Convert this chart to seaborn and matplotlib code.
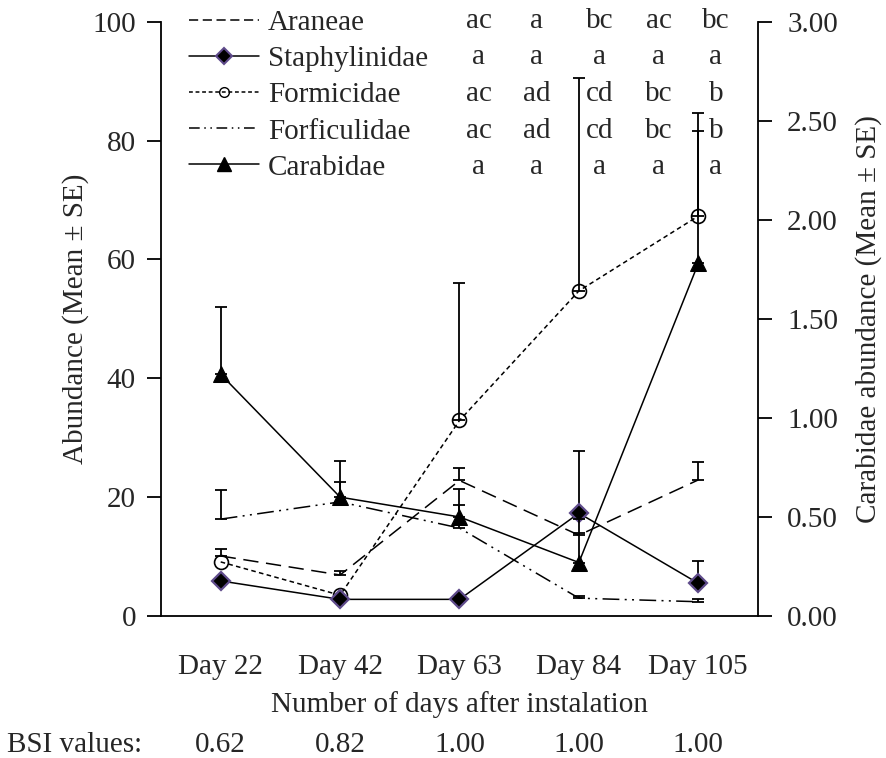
import numpy as np
import pandas as pd
import matplotlib
matplotlib.use("Agg")
import matplotlib.pyplot as plt
import seaborn as sns
from matplotlib.lines import Line2D
from matplotlib.ticker import FuncFormatter, FixedLocator

# ---------------- data ----------------
days = ["Day 22", "Day 42", "Day 63", "Day 84", "Day 105"]
bsi_values = ["0.62", "0.82", "1.00", "1.00", "1.00"]

araneae = [10.1, 6.9, 22.8, 13.6, 22.9]
araneae_se = [1.1, 0.7, 2.1, 0.4, 3.0]

staphylinidae = [5.9, 2.8, 2.8, 17.3, 5.5]
staphylinidae_se = [0.0, 0.0, 0.0, 10.4, 3.75]

formicidae = [9.1, 3.5, 32.9, 54.7, 67.3]
formicidae_se = [0.0, 0.0, 23.1, 35.9, 17.3]

forficulidae = [16.3, 19.2, 14.8, 3.0, 2.4]
forficulidae_se = [4.9, 3.4, 3.9, 0.3, 0.5]

carabidae = [1.22, 0.60, 0.50, 0.27, 1.78]          # right axis
carabidae_se = [0.34, 0.18, 0.14, 0.22, 0.67]

letters_araneae = ["ac", "a", "bc", "ac", "bc"]
letters_staph = ["a", "a", "a", "a", "a"]
letters_formicidae = ["ac", "ad", "cd", "bc", "b"]
letters_forficulidae = ["ac", "ad", "cd", "bc", "b"]
letters_carabidae = ["a", "a", "a", "a", "a"]

# ---------------- style ----------------
sns.set_theme(style="white")
plt.rcParams["font.family"] = ["Liberation Serif", "DejaVu Serif"]
plt.rcParams["mathtext.fontset"] = "stix"
FS = 21

W, H = 887, 758
fig = plt.figure(figsize=(W / 100, H / 100), dpi=100)
fig.patch.set_facecolor("white")
ax = fig.add_axes([161 / W, 1 - 616 / H, (758 - 161) / W, (616 - 21.7) / H])
ax2 = ax.twinx()

xpos = np.arange(len(days))
df = pd.DataFrame({
    "x": xpos,
    "Araneae": araneae,
    "Staphylinidae": staphylinidae,
    "Formicidae": formicidae,
    "Forficulidae": forficulidae,
    "Carabidae": carabidae,
})

LW = 1.1
purple = "#5F4B8B"

def err(axis, y, se, z=3):
    y = np.asarray(y, float)
    se = np.asarray(se, float)
    m = se > 0
    axis.errorbar(xpos[m], y[m], yerr=[np.zeros(m.sum()), se[m]], fmt="none",
                  ecolor="black", elinewidth=1.3, capsize=4.5, capthick=1.3, zorder=z)

# Araneae
sns.lineplot(data=df, x="x", y="Araneae", ax=ax, color="black", lw=LW,
             linestyle=(0, (10, 5)), label="Araneae", legend=False)
err(ax, araneae, araneae_se)
# Staphylinidae
sns.lineplot(data=df, x="x", y="Staphylinidae", ax=ax, color="black", lw=LW,
             marker="D", markersize=9, markerfacecolor="black",
             markeredgecolor=purple, markeredgewidth=1.6, label="Staphylinidae",
             legend=False, zorder=5)
err(ax, staphylinidae, staphylinidae_se)
# Formicidae
sns.lineplot(data=df, x="x", y="Formicidae", ax=ax, color="black", lw=LW,
             linestyle=(0, (3, 2.2)), marker="o", markersize=10,
             markerfacecolor="none", markeredgecolor="black", markeredgewidth=1.2,
             label="Formicidae", legend=False)
err(ax, formicidae, formicidae_se)
# Forficulidae
sns.lineplot(data=df, x="x", y="Forficulidae", ax=ax, color="black", lw=LW,
             linestyle=(0, (11, 3.5, 1.3, 3.5, 1.3, 3.5)), label="Forficulidae",
             legend=False)
err(ax, forficulidae, forficulidae_se)
# Carabidae on right axis
sns.lineplot(data=df, x="x", y="Carabidae", ax=ax2, color="black", lw=LW,
             marker="^", markersize=12, markerfacecolor="black",
             markeredgecolor="black", label="Carabidae", legend=False, zorder=5)
err(ax2, carabidae, carabidae_se)

# ---------------- axes ----------------
ax.set_xlim(-0.5, 4.5)
ax.set_ylim(0, 100)
ax2.set_ylim(0, 3)
ax.set_yticks([0, 20, 40, 60, 80, 100])
ax2.set_yticks([0, 0.5, 1.0, 1.5, 2.0, 2.5, 3.0])
ax2.yaxis.set_major_formatter(FuncFormatter(lambda v, p: f"{v:.2f}"))

ax.set_xticks(xpos)
ax.set_xticklabels(days, fontsize=FS)
ax.xaxis.set_minor_locator(FixedLocator(np.arange(-0.5, 5.0, 1.0)))
ax.tick_params(axis="x", which="major", length=0, pad=27)
ax.tick_params(axis="x", which="minor", length=10, width=1.3, direction="out", color="black")
ax.tick_params(axis="y", which="major", length=10, width=1.3, direction="out",
               labelsize=FS, pad=8, left=True, color="black")
ax2.tick_params(axis="y", which="major", length=10, width=1.3, direction="out",
                labelsize=FS, pad=11, right=True, color="black")

for a in (ax, ax2):
    a.set_facecolor("none")
    a.spines["top"].set_visible(False)
    for s in ("left", "right", "bottom"):
        a.spines[s].set_color("black")
        a.spines[s].set_linewidth(1.3)
    a.grid(False)
ax.spines["right"].set_visible(False)
ax2.spines["left"].set_visible(False)
ax2.spines["bottom"].set_visible(False)

ax.set_xlabel("Number of days after instalation", fontsize=FS, labelpad=8)
ax.set_ylabel("Abundance (Mean ± SE)", fontsize=FS, labelpad=2.5)
ax2.set_ylabel("Carabidae abundance (Mean ± SE)", fontsize=FS, labelpad=12)

# ---------------- legend ----------------
handles = [
    Line2D([], [], color="black", lw=LW, linestyle=(0, (6, 3))),
    Line2D([], [], color="black", lw=LW, marker="D", markersize=8,
           markerfacecolor="black", markeredgecolor=purple, markeredgewidth=1.5),
    Line2D([], [], color="black", lw=LW, linestyle=(0, (2.5, 1.8)), marker="o",
           markersize=7, markerfacecolor="none", markeredgecolor="black"),
    Line2D([], [], color="black", lw=LW, linestyle=(0, (7, 3, 1, 3, 1, 3))),
    Line2D([], [], color="black", lw=LW, marker="^", markersize=10,
           markerfacecolor="black"),
]
labels = ["Araneae", "Staphylinidae", "Formicidae", "Forficulidae", "Carabidae"]
leg = ax.legend(handles, labels, loc="upper left",
                bbox_to_anchor=(189 / W, 1 - 10 / H), bbox_transform=fig.transFigure,
                frameon=False, fontsize=FS, borderpad=0, borderaxespad=0,
                handlelength=2.4, handletextpad=0.3, labelspacing=0.33)

# significance letters
letter_rows = [letters_araneae, letters_staph, letters_formicidae,
               letters_forficulidae, letters_carabidae]
col_x = [479, 537, 600, 659, 716]
row_base = [28, 64.5, 101, 137.5, 174]
for rb, row in zip(row_base, letter_rows):
    for cx, t in zip(col_x, row):
        fig.text(cx / W, 1 - rb / H, t, ha="center", va="baseline", fontsize=FS)

# BSI values row
fig.text(75 / W, 1 - 752 / H, "BSI values:", ha="center", va="baseline", fontsize=FS)
for i, v in enumerate(bsi_values):
    xd = ax.transData.transform((xpos[i], 0))[0]
    fig.text(xd / W, 1 - 752 / H, v, ha="center", va="baseline", fontsize=FS)

fig.savefig("out.png", dpi=100, facecolor="white")
